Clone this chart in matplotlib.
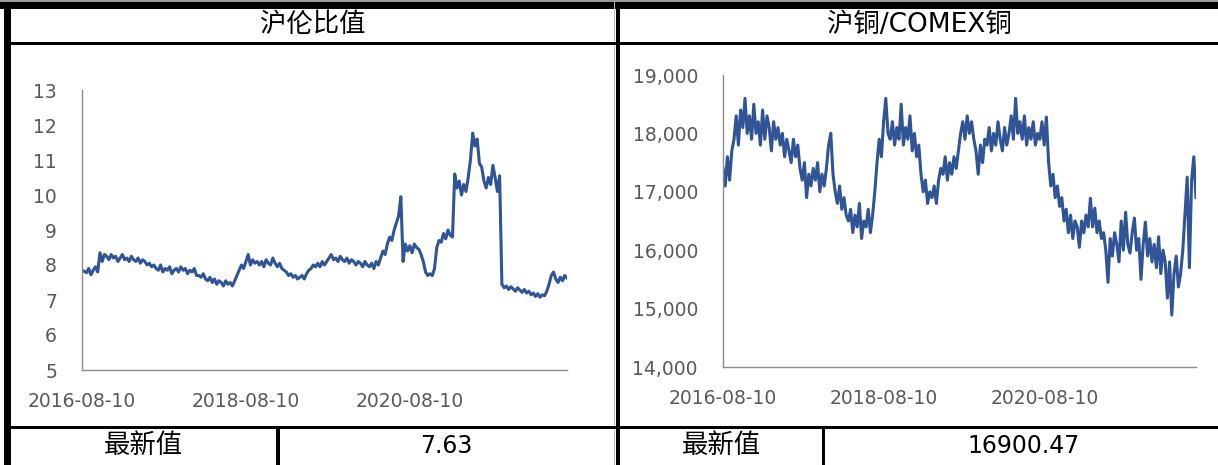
import matplotlib
matplotlib.use("Agg")
import matplotlib.pyplot as plt
import matplotlib.dates as mdates
from matplotlib.patches import Rectangle
from matplotlib.ticker import FuncFormatter
import pandas as pd

plt.rcParams['font.family'] = ['DejaVu Sans', 'Noto Sans CJK SC']

# ---- data (~10 day steps) ----
start_date = "2016-08-10"
tick_dates = ["2016-08-10", "2018-08-10", "2020-08-10"]

lme_ratio = [
    7.85, 7.82, 7.78, 7.9, 7.72, 7.85, 7.95, 7.8,
    8.35, 8.1, 8.3, 8.25, 8.15, 8.3, 8.2, 8.25, 8.1, 8.2, 8.3, 8.15, 8.2, 8.1, 8.25, 8.15, 8.1, 8.2, 8.05, 8.15, 8.1, 8.0,
    8.05, 7.95, 8.0, 7.9, 7.85, 8.0, 7.8, 7.9, 7.85, 7.95, 7.75, 7.85, 7.9, 7.8, 7.95, 7.85, 7.9, 7.75, 7.85, 7.8, 7.9, 7.7,
    7.7, 7.65, 7.75, 7.6, 7.55, 7.65, 7.5, 7.6, 7.45, 7.55, 7.5, 7.4, 7.55, 7.45, 7.5, 7.4, 7.55,
    7.7, 7.85, 8.0, 7.9, 8.1, 8.3, 8.0, 8.15, 8.05, 8.1,
    8.0, 8.1, 7.95, 8.15, 8.05, 8.0, 8.2, 8.05, 7.95, 8.05, 7.9,
    7.85, 7.8, 7.7, 7.75, 7.65, 7.7, 7.6, 7.65, 7.7, 7.6, 7.75,
    7.85, 7.9, 8.0, 7.95, 8.05, 7.95, 8.1, 8.0, 8.1,
    8.2, 8.3, 8.15, 8.2, 8.1, 8.25, 8.15, 8.1, 8.2, 8.05, 8.15, 8.1, 8.0, 8.1, 8.05, 7.95, 8.1, 8.0,
    7.95, 8.05, 7.9, 8.1, 8.0, 8.2,
    8.4, 8.3, 8.6, 8.8, 8.7, 9.0, 9.2, 9.4, 9.95,
    8.1, 8.6, 8.4, 8.55, 8.35, 8.6, 8.5, 8.45, 8.3, 8.1,
    7.8, 7.7, 7.75, 7.7, 7.9,
    8.5, 8.7, 8.65, 8.9, 8.75, 9.0, 8.85, 8.8,
    10.6, 10.2, 10.4, 10.0, 10.3, 10.1, 10.5,
    11.0, 11.77, 11.4, 11.6, 10.9,
    10.8, 10.4, 10.2, 10.5, 10.3, 10.85, 10.5, 10.1, 10.55,
    7.45, 7.35, 7.4, 7.3, 7.38, 7.32, 7.25, 7.35, 7.28, 7.22, 7.3, 7.2, 7.25, 7.15, 7.2, 7.1, 7.18, 7.08, 7.15, 7.12,
    7.25, 7.45, 7.7, 7.8, 7.6, 7.5, 7.65, 7.55, 7.7, 7.63,
]

shfe_comex = [
    17400, 17100, 17600, 17200, 17700,
    17900, 18300, 17800, 18400, 18100, 18600, 18000,
    18300, 17900, 18500, 18000, 18200, 17800, 18400, 17900, 18300, 18100, 17700, 18200, 17900, 18100,
    17800, 18000, 17600, 17900, 17700, 17500, 17900, 17600, 17800,
    17400, 17200, 17500, 16900, 17300, 17100, 17400, 17200, 17500, 17000, 17300, 17100, 17400,
    17800, 18000, 17300,
    17000, 16800, 17100, 16700, 16900, 16600,
    16500, 16700, 16300, 16600, 16400, 16800, 16200, 16500, 16400, 16700, 16300, 16600,
    17000, 17500, 17900, 17600, 18200, 18600, 18000,
    17900, 18200, 17800, 18100, 17900, 18500, 17800, 18100, 17900, 18300, 17700, 18000, 17600, 17800,
    17300, 17000, 17200, 16800, 17000, 16900, 17100, 16800, 17200,
    17400, 17300, 17600, 17200, 17500, 17300, 17600, 17400, 17700,
    18000, 18200, 17900, 18300, 18000, 18200, 17900,
    17700, 17300, 17800, 17500, 17900,
    17800, 18100, 17700, 18000, 17800, 18200, 17900, 17700, 18100, 17800, 18000, 18300, 17900, 18600,
    18000, 18200, 17900, 18300, 17800, 18100, 17900, 18200, 17800, 18000, 17900, 18200, 17800, 18280,
    17500, 17100, 17300, 16900, 17100, 16750, 16900,
    16500, 16700, 16300, 16600, 16200, 16500, 16400, 16050, 16500, 16300, 16600, 16400, 16890, 16400, 16720, 16300, 16500, 16200,
    16300, 16000, 15450, 16200, 15900, 16300, 16100, 15800, 16500, 16000, 16650, 16100, 15950, 16300, 16550, 16000, 16200, 15500,
    16100, 16480, 15900, 16200, 15800, 16100, 15700, 16230, 15600, 16000, 15800,
    15180, 15800, 14890, 15600, 15900, 15370, 15600,
    16000, 16630, 17250, 15700, 17200, 17600, 16900,
]

titles = ["沪伦比值", "沪铜/COMEX铜"]
latest_label = "最新值"
latest_values = ["7.63", "16900.47"]

# ---- figure ----
W, H = 1218, 465
fig = plt.figure(figsize=(W / 100, H / 100), dpi=100)

def px_rect(x0, y0, x1, y1, color="black"):
    fig.add_artist(Rectangle((x0 / W, 1 - y1 / H), (x1 - x0) / W, (y1 - y0) / H,
                             transform=fig.transFigure, color=color, lw=0))

# table borders
px_rect(0, 0, W, 2, "#9a9a9a")
px_rect(0, 2, W, 9)
px_rect(4, 2, 11, H)
px_rect(616, 2, 620, H)
px_rect(614, 2, 615, H, "#c0c0c0")
px_rect(11, 42, W, 45)
px_rect(11, 426, W, 429)
px_rect(276, 429, 280, H)
px_rect(822, 429, 825, H)

line_color = "#2f5597"
tick_color = "#595959"
spine_color = "#8c8c8c"

def style_axes(ax, vals, ylim, yticks, fmt):
    dates = pd.date_range(start_date, periods=len(vals), freq="10D")
    ax.plot(dates, vals, color=line_color, lw=2.2, solid_joinstyle="round")
    ax.set_xlim(dates[0], dates[-1])
    ax.set_ylim(*ylim)
    ax.set_yticks(yticks)
    ax.yaxis.set_major_formatter(FuncFormatter(fmt))
    ax.set_xticks(pd.to_datetime(tick_dates))
    ax.xaxis.set_major_formatter(mdates.DateFormatter("%Y-%m-%d"))
    for s in ["top", "right"]:
        ax.spines[s].set_visible(False)
    for s in ["left", "bottom"]:
        ax.spines[s].set_color(spine_color)
        ax.spines[s].set_linewidth(1.0)
    ax.tick_params(length=0, labelsize=13.5, labelcolor=tick_color)
    ax.tick_params(axis="y", pad=18)
    ax.tick_params(axis="x", pad=16)

ax1 = fig.add_axes([82 / W, 1 - 370 / H, 485 / W, 280 / H])
style_axes(ax1, lme_ratio, (5, 13), range(5, 14), lambda v, p: f"{v:.0f}")

ax2 = fig.add_axes([723 / W, 1 - 367 / H, 473 / W, 292 / H])
style_axes(ax2, shfe_comex, (14000, 19000), range(14000, 19001, 1000), lambda v, p: f"{v:,.0f}")

# titles and latest values
fig.text(313 / W, 1 - 25 / H, titles[0], ha="center", va="center", fontsize=19, color="black")
fig.text(919 / W, 1 - 25 / H, titles[1], ha="center", va="center", fontsize=19, color="black")
fig.text(143 / W, 1 - 446 / H, latest_label, ha="center", va="center", fontsize=19)
fig.text(446 / W, 1 - 446 / H, latest_values[0], ha="center", va="center", fontsize=17)
fig.text(721 / W, 1 - 446 / H, latest_label, ha="center", va="center", fontsize=19)
fig.text(1024 / W, 1 - 446 / H, latest_values[1], ha="center", va="center", fontsize=17)

fig.savefig("out.png", dpi=100)
